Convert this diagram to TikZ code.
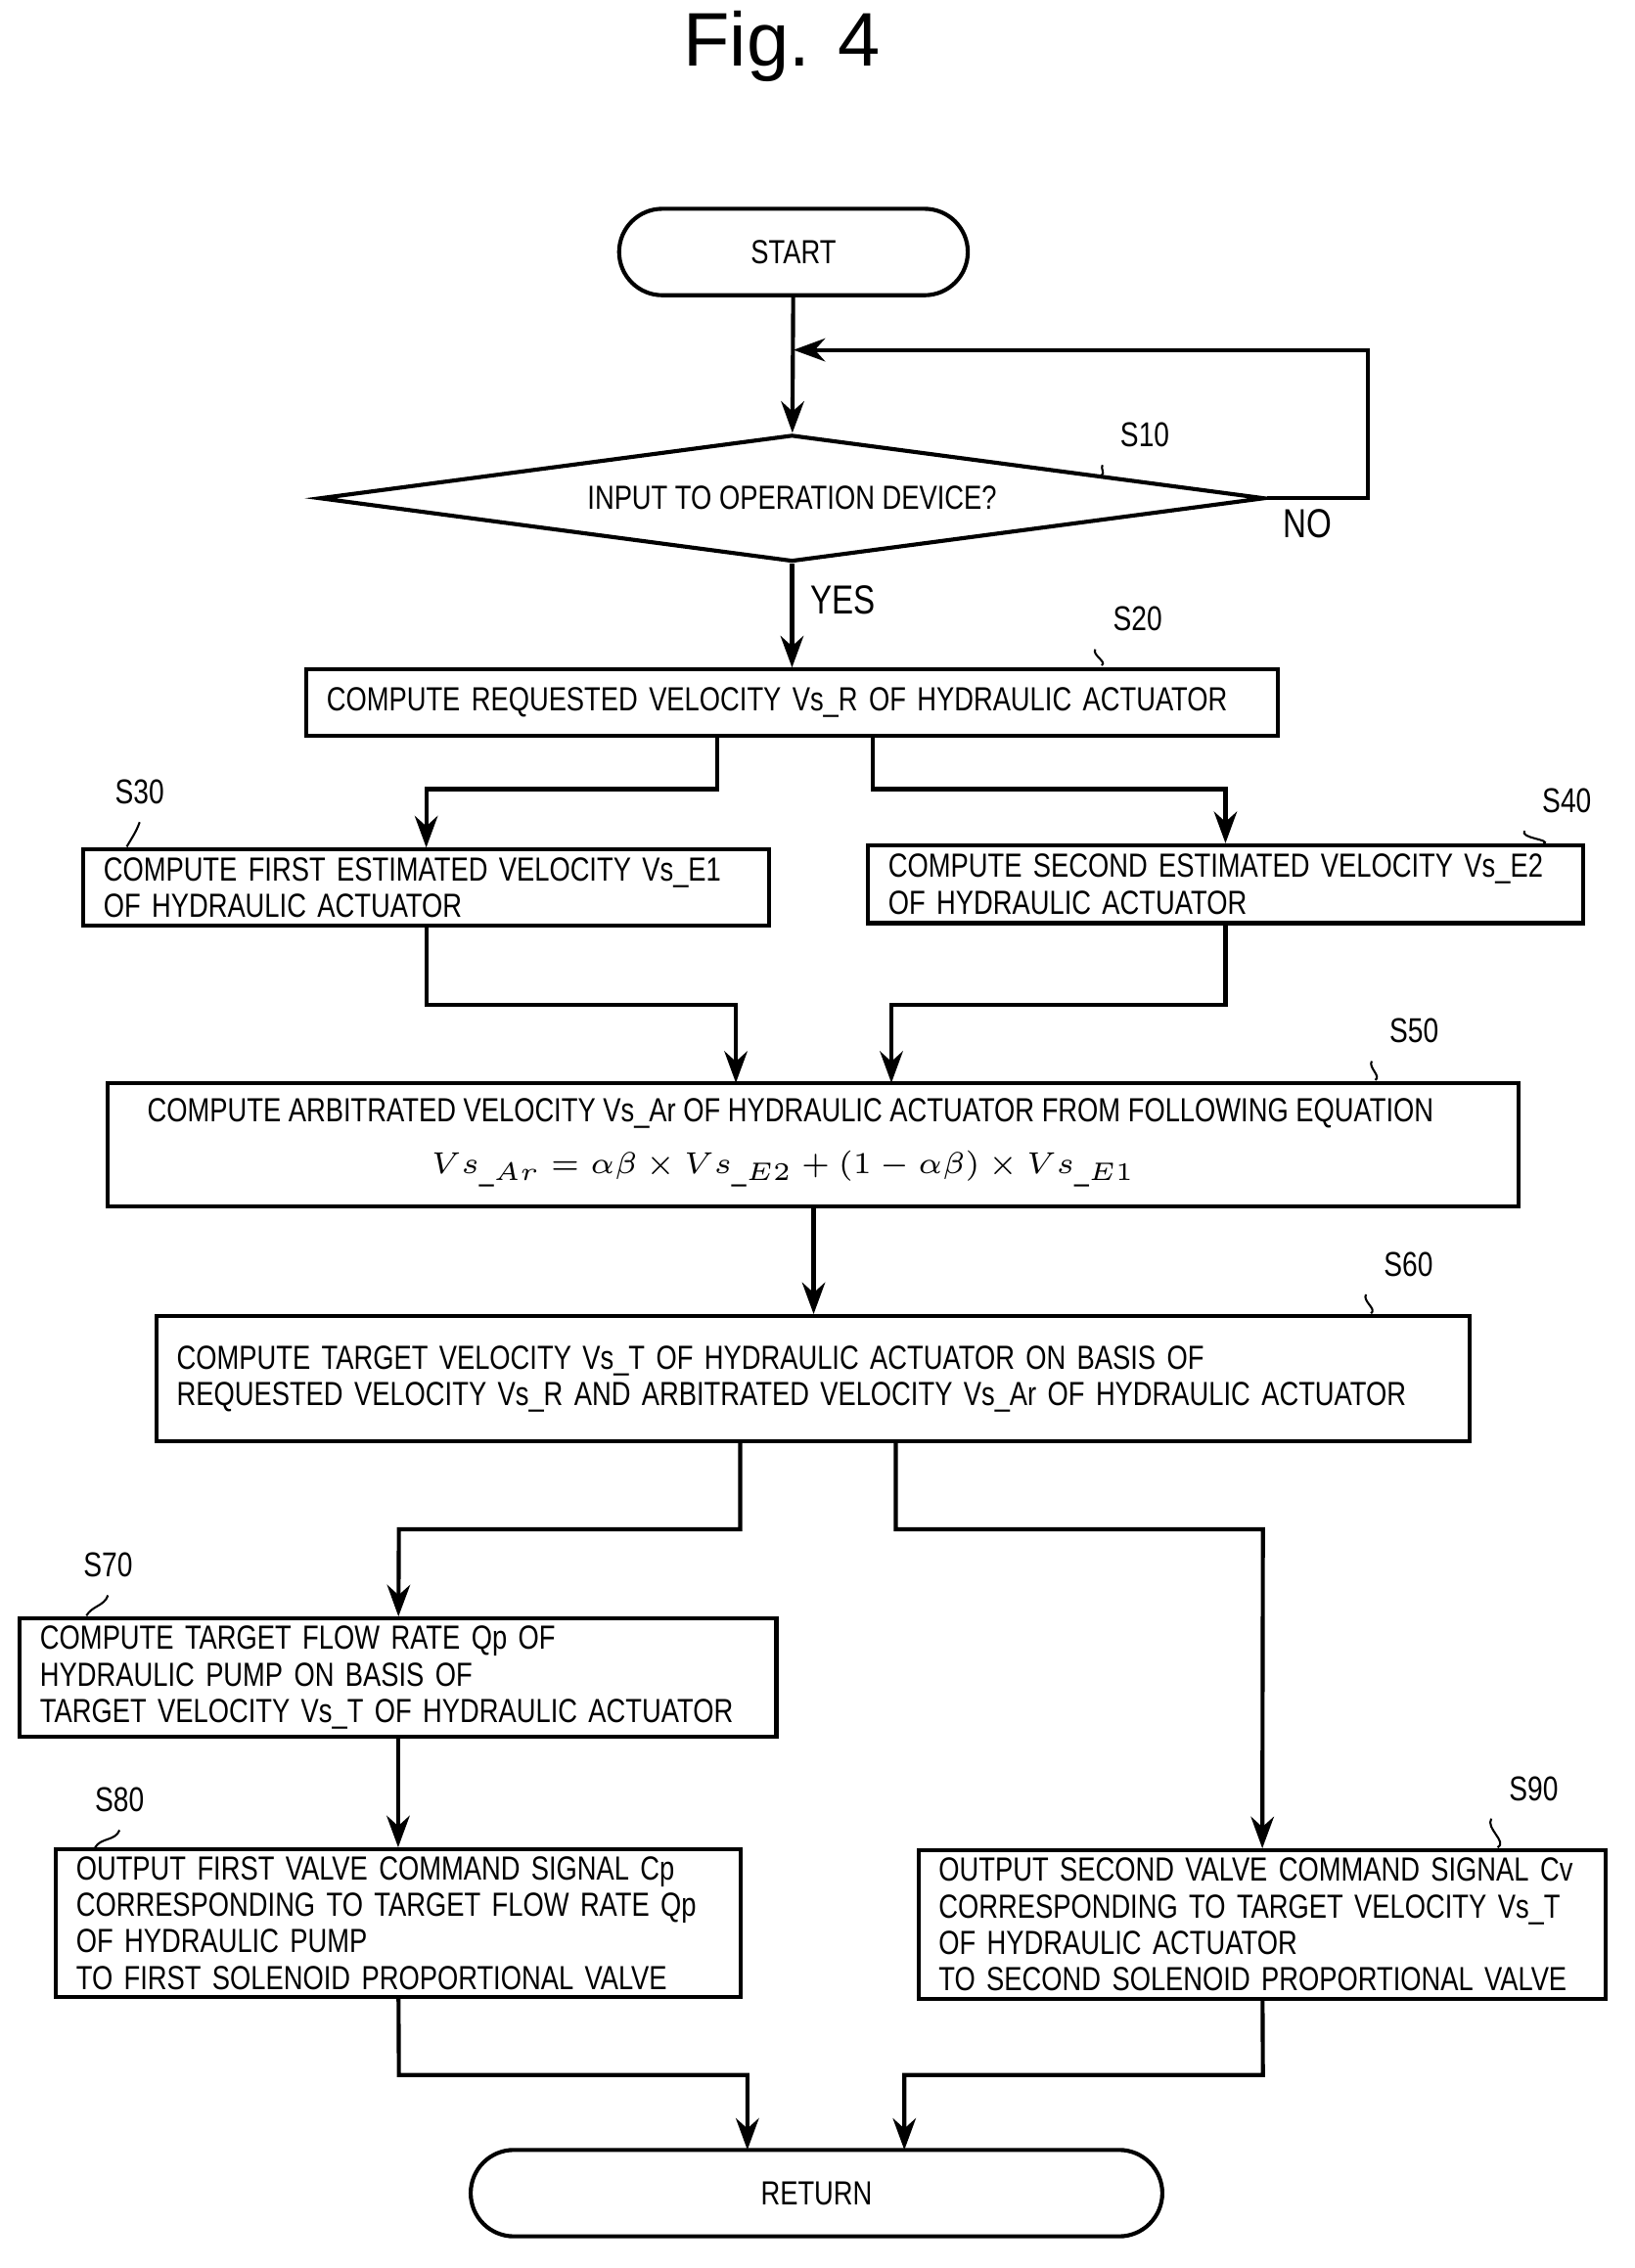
\documentclass[tikz,border=0pt]{standalone}
\usepackage{fontspec}
\setmainfont{Liberation Sans}[FakeStretch=0.8]
\newfontfamily\titlefont{Liberation Sans}
\usetikzlibrary{shapes.geometric,arrows.meta}
\tikzset{
  box/.style={draw, thick, rectangle, align=left, inner xsep=0.14cm, inner ysep=0.05cm, font=\fontsize{6.6}{7.2}\selectfont},
  term/.style={draw, thick, rectangle, rounded corners=0.3cm, font=\fontsize{6.6}{7.2}\selectfont},
  steplbl/.style={font=\fontsize{6.8}{8}\selectfont},
  flow/.style={thick, -{Stealth[length=2.2mm, width=1.6mm]}},
  lead/.style={thin}
}
\begin{document}
\begin{tikzpicture}[x=0.01cm, y=-0.01cm]
\useasboundingbox (0,0) rectangle (1135,1575);
\node[font=\titlefont\fontsize{15}{18}\selectfont] (title) at (543,32) {Fig. 4};

\node[term, minimum width=2.42cm, minimum height=0.6cm] (start) at (551,175) {START};
\node[draw, thick, diamond, aspect=7.45, minimum width=6.56cm, minimum height=0.88cm, inner sep=0pt,
  font=\fontsize{6.6}{7.2}\selectfont] (s10) at (550,346) {INPUT TO OPERATION DEVICE?};
\node[box, text width=6.46cm, minimum height=0.46cm] (s20) at (550,488)
  {COMPUTE REQUESTED VELOCITY Vs\_R OF HYDRAULIC ACTUATOR};
\node[box, text width=4.48cm, minimum height=0.53cm] (s30) at (296,616.5)
  {COMPUTE FIRST ESTIMATED VELOCITY Vs\_E1\\OF HYDRAULIC ACTUATOR};
\node[box, text width=4.68cm, minimum height=0.54cm] (s40) at (851,614)
  {COMPUTE SECOND ESTIMATED VELOCITY Vs\_E2\\OF HYDRAULIC ACTUATOR};
\node[draw, thick, minimum width=9.79cm, minimum height=0.86cm] (s50) at (564.5,795) {};
\node[font=\fontsize{6.6}{7.2}\selectfont, anchor=west] (s50a) at (90,773)
  {COMPUTE ARBITRATED VELOCITY Vs\_Ar OF HYDRAULIC ACTUATOR FROM FOLLOWING EQUATION};
\node[font=\fontsize{6.4}{7.5}\selectfont] (s50b) at (544,812)
  {$Vs_{\_Ar}=\alpha\beta\times Vs_{\_E2}+(1-\alpha\beta)\times Vs_{\_E1}$};
\node[box, text width=8.83cm, minimum height=0.87cm] (s60) at (564.5,957.5)
  {COMPUTE TARGET VELOCITY Vs\_T OF HYDRAULIC ACTUATOR ON BASIS OF\\REQUESTED VELOCITY Vs\_R AND ARBITRATED VELOCITY Vs\_Ar OF HYDRAULIC ACTUATOR};
\node[box, text width=4.97cm, minimum height=0.82cm] (s70) at (276.5,1165)
  {COMPUTE TARGET FLOW RATE Qp OF\\HYDRAULIC PUMP ON BASIS OF\\TARGET VELOCITY Vs\_T OF HYDRAULIC ACTUATOR};
\node[box, text width=4.47cm, minimum height=1.01cm] (s80) at (276.5,1335.5)
  {OUTPUT FIRST VALVE COMMAND SIGNAL Cp\\CORRESPONDING TO TARGET FLOW RATE Qp\\OF HYDRAULIC PUMP\\TO FIRST SOLENOID PROPORTIONAL VALVE};
\node[box, text width=4.49cm, minimum height=1.03cm] (s90) at (876.5,1336.5)
  {OUTPUT SECOND VALVE COMMAND SIGNAL Cv\\CORRESPONDING TO TARGET VELOCITY Vs\_T\\OF HYDRAULIC ACTUATOR\\TO SECOND SOLENOID PROPORTIONAL VALVE};
\node[term, minimum width=4.8cm, minimum height=0.6cm] (ret) at (567,1523) {RETURN};

% step labels
\node[steplbl] (l10) at (795,302) {S10};
\node[steplbl] (l20) at (790,430) {S20};
\node[steplbl] (l30) at (97,550) {S30};
\node[steplbl] (l40) at (1088,556) {S40};
\node[steplbl] (l50) at (982,716) {S50};
\node[steplbl] (l60) at (978,878) {S60};
\node[steplbl] (l70) at (75,1087) {S70};
\node[steplbl] (l80) at (83,1250) {S80};
\node[steplbl] (l90) at (1065,1242) {S90};
\draw[lead] (l10.south west) to[out=-120,in=30] (765,330);
\draw[lead] (l20.south west) to[out=-120,in=30] (765,462);
\draw[lead] (l30.south) to[out=-110,in=60] (88,588);
\draw[lead] (l40.south west) to[out=-120,in=30] (1072,586);
\draw[lead] (l50.south west) to[out=-120,in=30] (955,750);
\draw[lead] (l60.south west) to[out=-120,in=30] (952,912);
\draw[lead] (l70.south) to[out=-110,in=60] (60,1122);
\draw[lead] (l80.south) to[out=-110,in=60] (66,1283);
\draw[lead] (l90.south west) to[out=-120,in=30] (1040,1283);

% flow
\coordinate (loop) at (551,243);
\draw[flow] (start) -- (s10);
\draw[flow] (s10.east) -- (950,346) -- (950,243) -- (loop);
\node[font=\fontsize{8}{9}\selectfont] (no) at (908,364) {NO};
\draw[flow] (s10) -- (s20) node[pos=0.35, right, font=\fontsize{8}{9}\selectfont] (yes) {YES};
\draw[flow] (498,511) -- (498,548) -- (296,548) -- (s30);
\draw[flow] (606,511) -- (606,548) -- (851,548) -- (s40);
\draw[flow] (s30) -- (296,698) -- (511,698) -- (511,752);
\draw[flow] (s40) -- (851,698) -- (619,698) -- (619,752);
\draw[flow] (565,838) -- (s60.north -| 565,0);
\draw[flow] (514,1001) -- (514,1062) -- (277,1062) -- (s70);
\draw[flow] (622,1001) -- (622,1062) -- (877,1062) -- (s90);
\draw[flow] (s70) -- (s80);
\draw[flow] (s80) -- (277,1441) -- (519,1441) -- (519,1493);
\draw[flow] (s90) -- (877,1441) -- (628,1441) -- (628,1493);
\end{tikzpicture}
\end{document}
